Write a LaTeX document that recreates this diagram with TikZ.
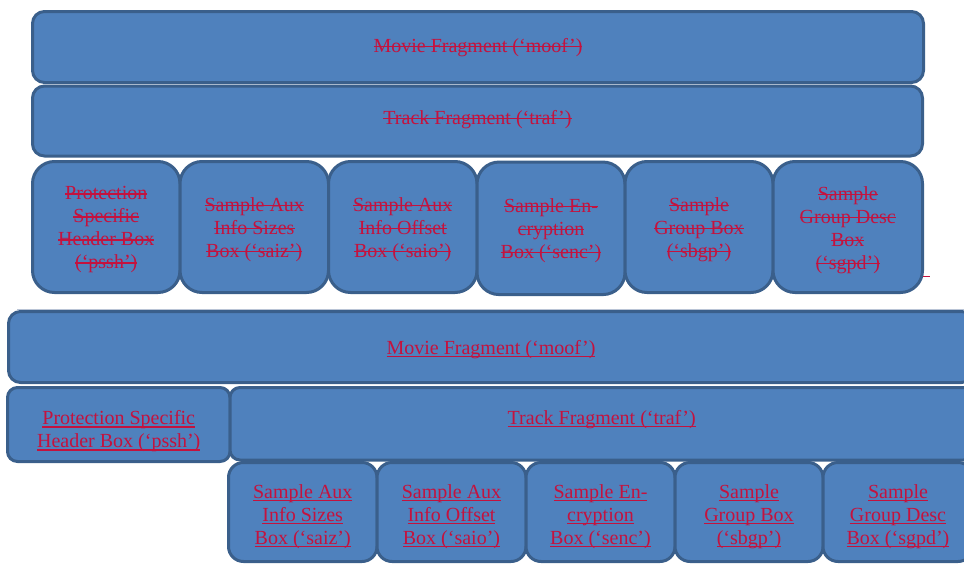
\documentclass[tikz,border=0pt]{standalone}
\usepackage{fontspec}
\setmainfont{Liberation Serif}
\definecolor{boxfill}{HTML}{4F81BD}
\definecolor{boxline}{HTML}{3A5F8B}
\definecolor{markred}{RGB}{196,18,62}
\definecolor{rulegray}{HTML}{B9C4D6}
% struck-through and underlined words, in the current colour
\newcommand\strk[1]{{\setbox0=\hbox{#1}\rlap{\rule[5.4pt]{\wd0}{1.2pt}}\box0}}
\newcommand\undl[1]{{\setbox0=\hbox{#1}\rlap{\rule[-2.6pt]{\wd0}{1.2pt}}\box0}}
\begin{document}
\begin{tikzpicture}[x=1pt,y=-1pt,
  bx/.style={draw=boxline,fill=boxfill,line width=3pt,inner sep=0pt,outer sep=0pt,rectangle},
  lbl/.style={text=markred,align=center,inner sep=0pt,font=\fontsize{20}{23}\selectfont},
  sepline/.style={draw=rulegray,line width=1pt},
  markdash/.style={draw=markred,line width=1.5pt}]
\path[use as bounding box] (0,0) rectangle (964,565);
\clip (0,0) rectangle (964,565);

% ---- upper layout (deleted) ----
\node[bx,rounded corners=12pt,minimum width=891pt,minimum height=71pt] (tMoof) at (478,47) {};
\node[lbl] (tMoofT) at ([yshift=-1pt]tMoof.center) {\strk{Movie Fragment (‘moof’)}};
\node[bx,rounded corners=12pt,minimum width=890pt,minimum height=70pt] (tTraf) at (477.5,121) {};
\node[lbl] (tTrafT) at ([yshift=1pt]tTraf.center) {\strk{Track Fragment (‘traf’)}};

\node[bx,rounded corners=22pt,minimum width=147.5pt,minimum height=131pt] (t1) at (106.25,227) {};
\node[bx,rounded corners=22pt,minimum width=148.5pt,minimum height=131pt] (t2) at (254.25,227) {};
\node[bx,rounded corners=22pt,minimum width=148.5pt,minimum height=131pt] (t3) at (402.75,227) {};
\node[bx,rounded corners=22pt,minimum width=148pt,minimum height=132.5pt] (t4) at (551,228.3) {};
\node[bx,rounded corners=22pt,minimum width=148pt,minimum height=131pt] (t5) at (699,227) {};
\node[bx,rounded corners=22pt,minimum width=149.5pt,minimum height=131pt] (t6) at (847.75,227) {};
\node[lbl] (t1T) at ([yshift=-3pt]t1.center) {\strk{Protection}\\\strk{Specific}\\\strk{Header Box}\\\strk{(‘pssh’)}};
\node[lbl] (t2T) at ([yshift=-3pt]t2.center) {\strk{Sample Aux}\\\strk{Info Sizes}\\\strk{Box (‘saiz’)}};
\node[lbl] (t3T) at ([yshift=-3pt]t3.center) {\strk{Sample Aux}\\\strk{Info Offset}\\\strk{Box (‘saio’)}};
\node[lbl] (t4T) at ([yshift=-2pt]t4.center) {\strk{Sample En-}\\\strk{cryption}\\\strk{Box (‘senc’)}};
\node[lbl] (t5T) at ([yshift=-3pt]t5.center) {\strk{Sample}\\\strk{Group Box}\\\strk{(‘sbgp’)}};
\node[lbl] (t6T) at ([yshift=-3pt]t6.center) {\strk{Sample}\\\strk{Group Desc}\\\strk{Box}\\\strk{(‘sgpd’)}};

\coordinate (dashL) at (923,276.5);
\coordinate (dashR) at (930,276.5);
\draw[markdash] (dashL) -- (dashR);

\coordinate (sepL) at (17,309);
\coordinate (sepR) at (964,309);
\draw[sepline] (sepL) -- (sepR);

% ---- lower layout (inserted) ----
\node[bx,rounded corners=12pt,minimum width=965pt,minimum height=71pt] (bMoof) at (491,347) {};
\node[lbl] (bMoofT) at ([yshift=-3pt]bMoof.center) {\undl{Movie Fragment (‘moof’)}};
\node[bx,rounded corners=10pt,minimum width=222.5pt,minimum height=74pt] (bPssh) at (118.75,424.5) {};
\node[lbl] (bPsshT) at ([yshift=-7pt]bPssh.center) {\undl{Protection Specific}\\\undl{Header Box (‘pssh’)}};
\node[bx,rounded corners=10pt,minimum width=743.5pt,minimum height=72.5pt] (bTraf) at (601.75,423.75) {};
\node[lbl] (bTrafT) at ([yshift=4pt]bTraf.center) {\undl{Track Fragment (‘traf’)}};

\node[bx,rounded corners=15pt,minimum width=148.5pt,minimum height=99pt] (b1) at (302.75,512) {};
\node[bx,rounded corners=15pt,minimum width=149pt,minimum height=99pt] (b2) at (451.5,512) {};
\node[bx,rounded corners=15pt,minimum width=149pt,minimum height=99pt] (b3) at (600.5,512) {};
\node[bx,rounded corners=15pt,minimum width=148pt,minimum height=99pt] (b4) at (749,512) {};
\node[bx,rounded corners=15pt,minimum width=150pt,minimum height=99pt] (b5) at (898,512) {};
\node[lbl] (b1T) at ([yshift=-5pt]b1.center) {\undl{Sample Aux}\\\undl{Info Sizes}\\\undl{Box (‘saiz’)}};
\node[lbl] (b2T) at ([yshift=-5pt]b2.center) {\undl{Sample Aux}\\\undl{Info Offset}\\\undl{Box (‘saio’)}};
\node[lbl] (b3T) at ([yshift=-5pt]b3.center) {\undl{Sample En-}\\\undl{cryption}\\\undl{Box (‘senc’)}};
\node[lbl] (b4T) at ([yshift=-5pt]b4.center) {\undl{Sample}\\\undl{Group Box}\\\undl{(‘sbgp’)}};
\node[lbl] (b5T) at ([yshift=-5pt]b5.center) {\undl{Sample}\\\undl{Group Desc}\\\undl{Box (‘sgpd’)}};
\end{tikzpicture}
\end{document}
